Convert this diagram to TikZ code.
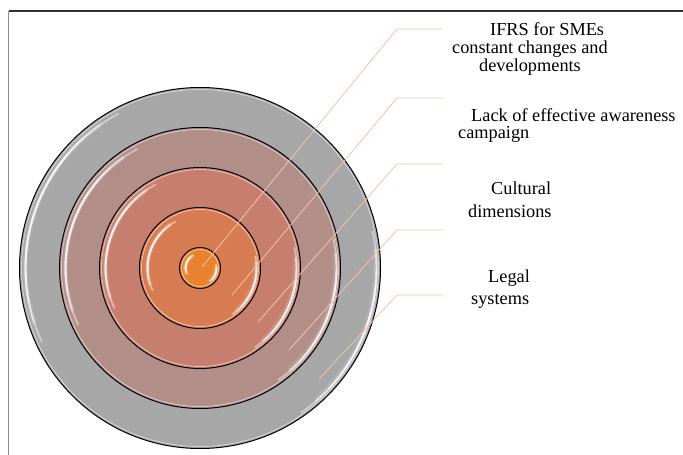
\documentclass[tikz,border=0pt]{standalone}
\usepackage{fontspec}
\setmainfont{Liberation Serif}
\definecolor{ringE}{HTML}{A7A7A7}
\definecolor{ringD}{HTML}{B28E88}
\definecolor{ringC}{HTML}{C67F6E}
\definecolor{ringB}{HTML}{D77C52}
\definecolor{ringA}{HTML}{E8822E}
\definecolor{leader}{HTML}{F5C0AA}
\tikzset{
  ring/.style={draw=black, line width=1pt},
  rim/.style={white, line width=0.8pt, opacity=0.5},
  shine/.style={white, line width=1.9pt, opacity=0.42, line cap=round},
  glow/.style={white, line width=5pt, opacity=0.12, line cap=round},
  leaderline/.style={leader, line width=0.8pt},
  lbl/.style={anchor=base west, inner sep=0pt, font=\fontsize{18.3}{20}\selectfont},
  frameline/.style={line width=1.1pt}
}
\begin{document}
\begin{tikzpicture}[x=1pt,y=-1pt]
\useasboundingbox (0,0) rectangle (683,455);

% frame
\draw[frameline, draw=black!80] (8.5,11) -- (683,11);
\draw[frameline, draw=black!45, line width=1.6pt] (8.5,11) -- (8.5,455);

% concentric rings, outermost first
\coordinate (C) at (200,268);
\fill[ringE] (C) circle[radius=180.5];
\fill[ringD] (C) circle[radius=140.5];
\fill[ringC] (C) circle[radius=100.5];
\fill[ringB] (C) circle[radius=60.5];
\fill[ringA] (C) circle[radius=20.5];

% light rim inside each border
\foreach \r in {180.5,140.5,100.5,60.5,20.5}
  \draw[rim, shift={(C)}] (0:\r-2) arc[start angle=0, end angle=360, radius=\r-2];

% glossy highlights: upper left and lower right of every ring
\foreach \r/\d in {180.5/6,140.5/6,100.5/6,60.5/8,20.5/6}{
  \draw[glow, shift={(C)}] (-125:\r-\d) arc[start angle=-125, end angle=-198, radius=\r-\d];
  \draw[glow, shift={(C)}] (-5:\r-5) arc[start angle=-5, end angle=48, radius=\r-5];
  \foreach \k in {0,...,3}{
    \draw[shine, shift={(C)}] ({-118-\k*7}:\r-\d)
      arc[start angle={-118-\k*7}, end angle={-205+\k*7}, radius=\r-\d];
    \draw[shine, shift={(C)}] ({-12+\k*6}:\r-4)
      arc[start angle={-12+\k*6}, end angle={55-\k*6}, radius=\r-4];
  }
}

% ring borders
\foreach \r in {180.5,140.5,100.5,60.5,20.5}
  \draw[ring] (C) circle[radius=\r];

% leader lines
\coordinate (p1) at (202,267); \coordinate (e1) at (397,29);  \coordinate (h1) at (443,29);
\coordinate (p2) at (232,295); \coordinate (e2) at (397,98);  \coordinate (h2) at (443,98);
\coordinate (p3) at (258,322); \coordinate (e3) at (397,164); \coordinate (h3) at (443,164);
\coordinate (p4) at (289,350); \coordinate (e4) at (397,230); \coordinate (h4) at (443,230);
\coordinate (p5) at (319,379); \coordinate (e5) at (397,295); \coordinate (h5) at (443,295);
\foreach \i in {1,...,5}
  \draw[leaderline] (p\i) -- (e\i) -- (h\i);

% labels
\node[lbl] (t1a) at (490,35)  {IFRS for SMEs};
\node[lbl] (t1b) at (452,53)  {constant changes and};
\node[lbl] (t1c) at (479,71)  {developments};
\node[lbl] (t2a) at (471,121) {Lack of effective awareness};
\node[lbl] (t2b) at (458,138) {campaign};
\node[lbl] (t3a) at (491,194) {Cultural};
\node[lbl] (t3b) at (468,217) {dimensions};
\node[lbl] (t4a) at (488,282) {Legal};
\node[lbl] (t4b) at (471,304) {systems};
\end{tikzpicture}
\end{document}
